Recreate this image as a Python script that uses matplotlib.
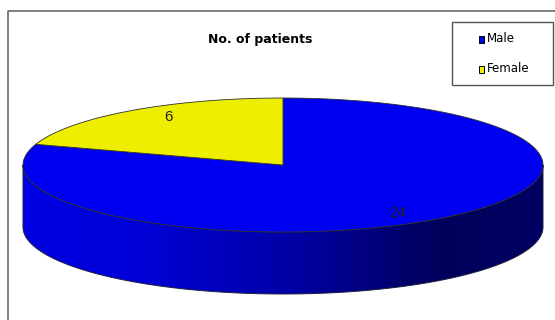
import numpy as np
import matplotlib
matplotlib.use("Agg")
import matplotlib.pyplot as plt
from matplotlib.patches import Polygon, Rectangle

# datos
categorias = ["Male", "Female"]
pacientes = [24, 6]
colores = ["#0000f0", "#eeee00"]
titulo = "No. of patients"

W, H = 555, 320
fig = plt.figure(figsize=(W / 100, H / 100), dpi=100)
ax = fig.add_axes([0, 0, 1, 1])
ax.set_xlim(0, W)
ax.set_ylim(H, 0)
ax.axis("off")

# geometria da pizza 3D (elipse em pixels)
cx, cy, a, b, prof = 283, 165, 260, 67, 62


def ponto(th, dy=0.0, r=1.0):
    t = np.radians(th)
    return cx + r * a * np.cos(t), cy - r * b * np.sin(t) + dy


# angulos das fatias: feminino comeca as 12h e gira anti-horario
total = sum(pacientes)
ang = {}
ini = 90.0
for cat, v in zip(reversed(categorias), reversed(pacientes)):
    fim = ini + 360.0 * v / total
    ang[cat] = (ini, fim)
    ini = fim

# lateral (parte da frente, so masculino) com degrade
th = np.linspace(180, 360, 200)
xs, ys = ponto(th)
xb, yb = ponto(th[::-1], dy=prof)
lateral = np.column_stack([np.r_[xs, xb], np.r_[ys, yb]])
grad_x = np.linspace(0, 1, 400)
luz = np.interp(grad_x, [0, 0.2, 0.5, 0.8, 1.0], [0.88, 0.86, 0.66, 0.36, 0.38])
img = np.zeros((2, 400, 3))
img[:, :, 2] = luz
im = ax.imshow(img, extent=[cx - a, cx + a, cy + b + prof, cy - b],
               aspect="auto", interpolation="bilinear", zorder=1)
poly_lat = Polygon(lateral, closed=True, facecolor="none",
                   edgecolor="#202040", lw=0.7, zorder=2)
ax.add_patch(poly_lat)
im.set_clip_path(poly_lat)

# topo das fatias
for cat, cor in zip(categorias, colores):
    t0, t1 = ang[cat]
    tt = np.linspace(t0, t1, 200)
    px, py = ponto(tt)
    pts = np.column_stack([np.r_[cx, px], np.r_[cy, py]])
    ax.add_patch(Polygon(pts, closed=True, facecolor=cor,
                         edgecolor="#303030", lw=0.6, zorder=3))

# rotulos de valor
for cat, v in zip(categorias, pacientes):
    t0, t1 = ang[cat]
    m = np.radians((t0 + t1) / 2)
    lx = cx + 0.75 * a * np.cos(m)
    ly = cy - 0.88 * b * np.sin(m)
    ax.text(lx, ly, str(v), ha="center", va="center", fontsize=11,
            family="Liberation Sans", color="#202020", zorder=5)

# titulo
ax.text(260, 40, titulo, ha="center", va="center", fontsize=9,
        fontweight="bold", family="DejaVu Sans", color="black")

# borda da area do grafico
ax.plot([8, 8, W + 5], [H + 5, 11, 11], color="#6a6a6a", lw=1.2,
        clip_on=False, zorder=6)

# legenda
ax.add_patch(Rectangle((452, 22), 101, 63, facecolor="white",
                       edgecolor="#555555", lw=1.0, zorder=6))
for i, (cat, cor) in enumerate(zip(categorias, colores)):
    yy = 39 + 30 * i
    ax.add_patch(Rectangle((478.5, yy - 3), 5.5, 6.5, facecolor=cor,
                           edgecolor="black", lw=0.7, zorder=7))
    ax.text(486.5, yy, cat, ha="left", va="center", fontsize=8.5,
            family="DejaVu Sans", color="black", zorder=7)

fig.savefig("out.png", dpi=100)
